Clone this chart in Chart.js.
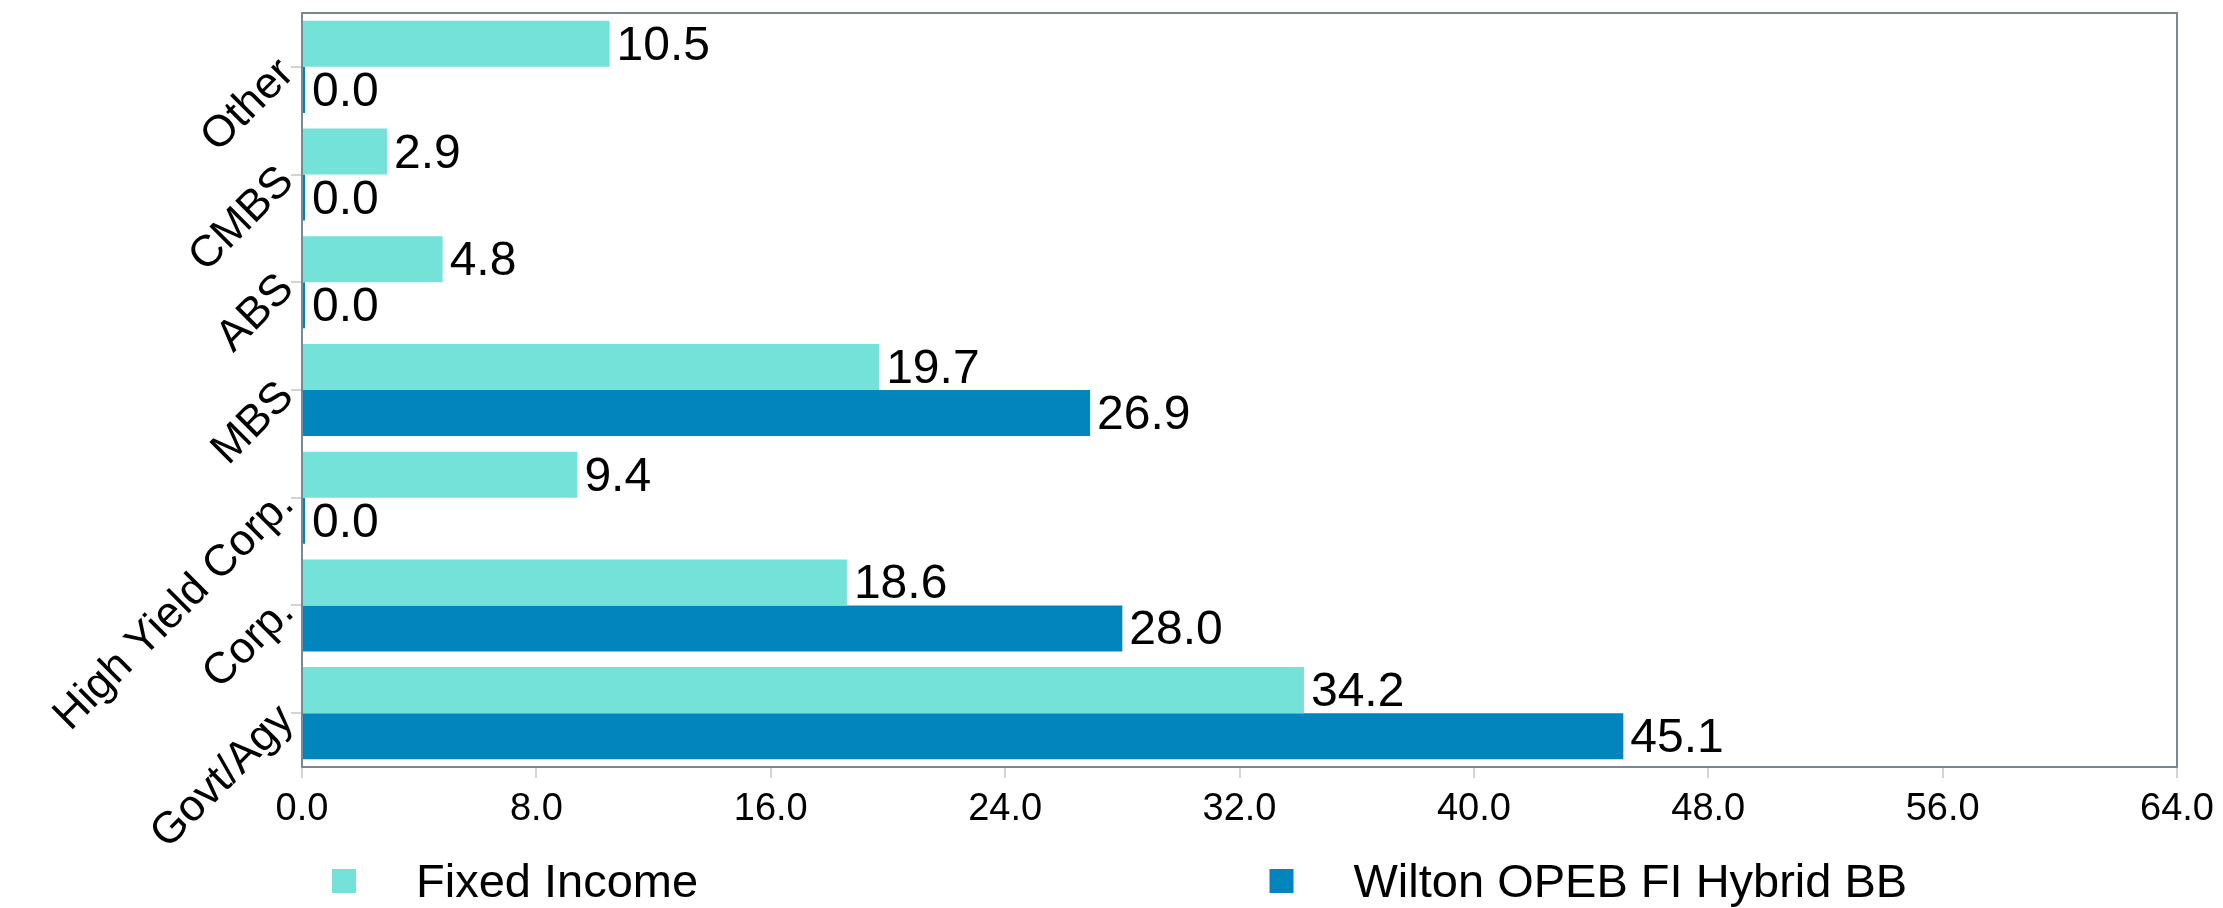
<!DOCTYPE html>
<html>
<head>
<meta charset="utf-8">
<script src="https://cdn.jsdelivr.net/npm/chart.js@4.4.1/dist/chart.umd.min.js"></script>
<style>
  html, body { margin: 0; padding: 0; background: #fff; }
  #wrap { width: 2223px; height: 908px; position: relative; }
</style>
</head>
<body>
<div id="wrap"><canvas id="sectorChart"></canvas></div>
<script>
// sector weights (%)
let sectores = ['Other', 'CMBS', 'ABS', 'MBS', 'High Yield Corp.', 'Corp.', 'Govt/Agy']
let fixedIncome = [10.5, 2.9, 4.8, 19.7, 9.4, 18.6, 34.2]
let wiltonBB = [0.0, 0.0, 0.0, 26.9, 0.0, 28.0, 45.1]
let serieNombres = ['Fixed Income', 'Wilton OPEB FI Hybrid BB']
let xTicks = [0, 8, 16, 24, 32, 40, 48, 56, 64]

let colores = ['rgb(116, 226, 217)', 'rgb(2, 132, 188)']
let fuente = '"Liberation Sans", Arial, sans-serif'

// frame around the plot area, drawn under the bars
let marco = {
    id: 'marco',
    beforeDatasetsDraw(chart) {
        let { ctx, chartArea } = chart
        ctx.save()
        ctx.strokeStyle = '#7b8894'
        ctx.lineWidth = 2
        ctx.strokeRect(chartArea.left, chartArea.top, chartArea.right - chartArea.left, chartArea.bottom - chartArea.top)
        ctx.restore()
    }
}

// value labels at the end of each bar
let etiquetas = {
    id: 'etiquetas',
    afterDatasetsDraw(chart) {
        let ctx = chart.ctx
        ctx.save()
        ctx.font = '48px ' + fuente
        ctx.fillStyle = '#000'
        ctx.textAlign = 'left'
        ctx.textBaseline = 'alphabetic'
        chart.data.datasets.forEach((ds, i) => {
            chart.getDatasetMeta(i).data.forEach((bar, j) => {
                ctx.fillText(ds.data[j].toFixed(1), bar.x + 7, bar.y + 16)
            })
        })
        ctx.restore()
    }
}

// legend split in two halves under the x axis
let leyenda = {
    id: 'leyenda',
    afterDraw(chart) {
        let { ctx, chartArea } = chart
        let mitad = (chartArea.right - chartArea.left) / 2
        ctx.save()
        ctx.font = '47px ' + fuente
        ctx.textBaseline = 'alphabetic'
        chart.data.datasets.forEach((ds, i) => {
            let x = chartArea.left + i * mitad + 30
            let y = chartArea.bottom + 102
            ctx.fillStyle = ds.backgroundColor
            ctx.fillRect(x, y, 24, 24)
            ctx.fillStyle = '#000'
            ctx.fillText(ds.label, x + 84, y + 28)
        })
        ctx.restore()
    }
}

let ctx = document.getElementById('sectorChart').getContext('2d')
let grafico = new Chart(ctx, {
    type: 'bar',
    data: {
        labels: sectores,
        datasets: [
            { label: serieNombres[0], data: fixedIncome, backgroundColor: colores[0], minBarLength: 3 },
            { label: serieNombres[1], data: wiltonBB, backgroundColor: colores[1], minBarLength: 3 }
        ]
    },
    options: {
        indexAxis: 'y',
        responsive: true,
        maintainAspectRatio: false,
        animation: false,
        layout: { padding: { top: 13, right: 44, left: 0, bottom: 0 } },
        datasets: { bar: { categoryPercentage: 0.855, barPercentage: 1.0 } },
        plugins: {
            legend: { display: false },
            tooltip: { enabled: false }
        },
        scales: {
            x: {
                min: 0,
                max: 64,
                afterBuildTicks: (scale) => { scale.ticks = xTicks.map(v => ({ value: v })) },
                ticks: {
                    color: '#000',
                    font: { family: fuente, size: 38 },
                    padding: 9,
                    maxRotation: 0,
                    callback: (v) => Number(v).toFixed(1)
                },
                grid: { drawOnChartArea: false, tickLength: 11, color: '#d4d4d4', lineWidth: 2 },
                border: { display: false },
                afterFit: (scale) => { scale.height = 141 }
            },
            y: {
                ticks: {
                    color: '#000',
                    font: { family: fuente, size: 44 },
                    minRotation: 45,
                    maxRotation: 45,
                    padding: 4
                },
                grid: { drawOnChartArea: false, offset: false, tickLength: 11, color: '#d4d4d4', lineWidth: 2 },
                border: { display: false },
                afterFit: (scale) => {
                    scale.width = 302
                    scale.paddingTop = 0
                    scale.paddingBottom = 0
                }
            }
        }
    },
    plugins: [marco, etiquetas, leyenda]
})
</script>
</body>
</html>
